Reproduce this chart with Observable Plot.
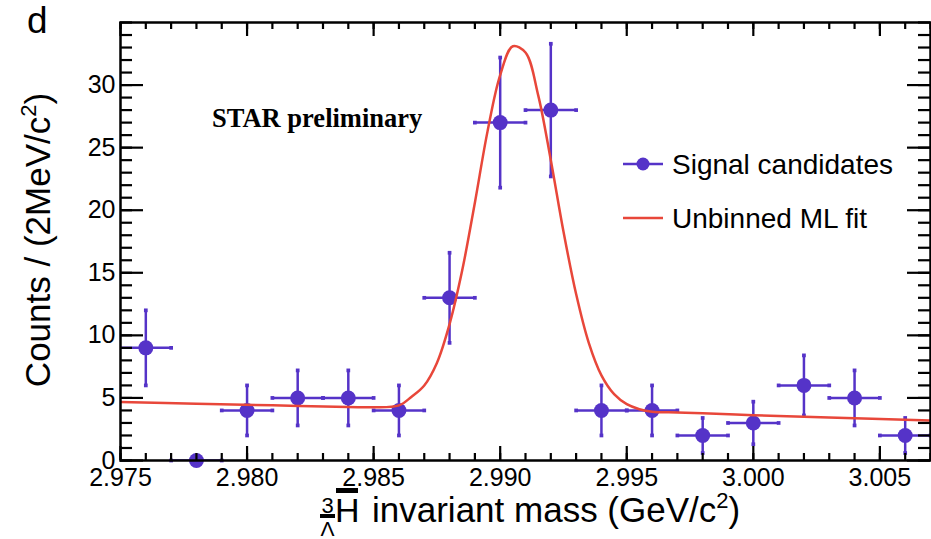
<!DOCTYPE html>
<html>
<head>
<meta charset="utf-8">
<script src="https://cdn.jsdelivr.net/npm/d3@7"></script>
<script src="https://cdn.jsdelivr.net/npm/@observablehq/plot@0.6"></script>
<style>
  html, body { margin: 0; padding: 0; background: #fff; }
  #chart { width: 931px; height: 539px; }
</style>
</head>
<body>
<div id="chart"></div>
<script>
// ---- data ----
const binCenters = [2.976, 2.978, 2.980, 2.982, 2.984, 2.986, 2.988, 2.990, 2.992, 2.994, 2.996, 2.998, 3.000, 3.002, 3.004, 3.006];
const counts     = [9, 0, 4, 5, 5, 4, 13, 27, 28, 4, 4, 2, 3, 6, 5, 2];
const countErr   = [3.0, 0, 2.0, 2.2, 2.2, 2.0, 3.6, 5.2, 5.3, 2.0, 2.0, 1.4, 1.7, 2.4, 2.2, 1.4];
const binHalfWidth = 0.001;

const fitMass = [2.975, 2.978, 2.981, 2.984, 2.985, 2.986, 2.9865, 2.987, 2.9875, 2.988, 2.9885, 2.989, 2.9895, 2.990, 2.9905, 2.991, 2.9915, 2.992, 2.9925, 2.993, 2.9935, 2.994, 2.9945, 2.995, 2.9955, 2.996, 2.997, 2.998, 3.000, 3.002, 3.004, 3.006, 3.007];
const fitValue = [4.67, 4.54, 4.41, 4.28, 4.25, 4.4, 5.1, 6.0, 7.8, 10.9, 15.2, 20.6, 26.3, 30.8, 33.1, 32.6, 29.2, 24.0, 18.3, 13.3, 9.4, 6.8, 5.3, 4.5, 4.1, 3.9, 3.84, 3.78, 3.62, 3.5, 3.38, 3.26, 3.2];

const xMajorTicks = [2.975, 2.980, 2.985, 2.990, 2.995, 3.000, 3.005];
const yMajorTicks = [0, 5, 10, 15, 20, 25, 30];
const xMinorTicks = d3.range(2975, 3008).map(d => d / 1000);
const yMinorTicks = d3.range(0, 36);

const legendLabels = ["Signal candidates", "Unbinned ML fit"];

// ---- build tables ----
const points = binCenters.map((x, i) => ({x, c: counts[i], e: countErr[i]}));
const fit = fitMass.map((x, i) => ({x, y: fitValue[i]}));

const W = 931, H = 539, mL = 120, mR = 1, mT = 22, mB = 79;
const plotW = W - mL - mR, plotH = H - mT - mB;
const purple = "#5533c8", red = "#e8473a";
const fmt = d3.format(".3f");

const svg = Plot.plot({
  width: W, height: H,
  marginLeft: mL, marginRight: mR, marginTop: mT, marginBottom: mB,
  style: {fontFamily: "'Liberation Sans', Arial, sans-serif", background: "#fff", color: "#000"},
  x: {domain: [2.975, 3.007], axis: null},
  y: {domain: [0, 35], axis: null},
  marks: [
    Plot.ruleY(points, {y: "c", x1: d => d.x - binHalfWidth, x2: d => d.x + binHalfWidth, stroke: purple, strokeWidth: 2.5, clip: true}),
    Plot.ruleX(points.filter(d => d.e > 0), {x: "x", y1: d => d.c - d.e, y2: d => d.c + d.e, stroke: purple, strokeWidth: 2.5}),
    Plot.dot(points.filter(d => d.e > 0), {x: "x", y: d => d.c + d.e, symbol: "square", r: 2.1, fill: purple}),
    Plot.dot(points.filter(d => d.e > 0), {x: "x", y: d => d.c - d.e, symbol: "square", r: 2.1, fill: purple}),
    Plot.dot(points.filter(d => d.x - binHalfWidth > 2.975), {x: d => d.x - binHalfWidth, y: "c", symbol: "square", r: 2.1, fill: purple}),
    Plot.dot(points, {x: d => d.x + binHalfWidth, y: "c", symbol: "square", r: 2.1, fill: purple}),
    Plot.dot(points, {x: "x", y: "c", r: 7.5, fill: purple}),
    Plot.line(fit, {x: "x", y: "y", stroke: red, strokeWidth: 2.5, curve: "catmull-rom", clip: true}),
    Plot.tickX(xMinorTicks, {x: d => d, stroke: "#000", strokeWidth: 2.2, insetTop: plotH - 7}),
    Plot.tickX(xMajorTicks, {x: d => d, stroke: "#000", strokeWidth: 2.2, insetTop: plotH - 14}),
    Plot.tickX(xMinorTicks, {x: d => d, stroke: "#000", strokeWidth: 2.2, insetBottom: plotH - 7}),
    Plot.tickX(xMajorTicks, {x: d => d, stroke: "#000", strokeWidth: 2.2, insetBottom: plotH - 14}),
    Plot.tickY(yMinorTicks, {y: d => d, stroke: "#000", strokeWidth: 2.2, insetRight: plotW - 12}),
    Plot.tickY(yMajorTicks, {y: d => d, stroke: "#000", strokeWidth: 2.2, insetRight: plotW - 23}),
    Plot.tickY(yMinorTicks, {y: d => d, stroke: "#000", strokeWidth: 2.2, insetLeft: plotW - 12}),
    Plot.tickY(yMajorTicks, {y: d => d, stroke: "#000", strokeWidth: 2.2, insetLeft: plotW - 23}),
    Plot.text(xMajorTicks, {x: d => d, text: d => fmt(d), frameAnchor: "bottom", lineAnchor: "bottom", dy: 25, fontSize: 25, fill: "#000"}),
    Plot.text(yMajorTicks, {y: d => d, text: d => String(d), frameAnchor: "left", textAnchor: "end", lineAnchor: "middle", dx: -5, fontSize: 25, fill: "#000"}),
    Plot.frame({stroke: "#000", strokeWidth: 2.5})
  ]
});

document.getElementById("chart").appendChild(svg);

const s = d3.select(svg);
const sans = "'Liberation Sans', Arial, sans-serif";

s.append("text").attr("x", 27).attr("y", 33).attr("text-anchor", "start").attr("font-family", sans).attr("font-size", 37).attr("fill", "#000").text("d");

s.append("text").attr("x", 212).attr("y", 127).attr("text-anchor", "start").attr("font-family", "'Liberation Serif', 'Times New Roman', serif")
  .attr("font-weight", "bold").attr("font-size", 26.5).attr("fill", "#000").text("STAR preliminary");

const yt = s.append("text").attr("transform", "translate(50,240) rotate(-90)").attr("text-anchor", "middle")
  .attr("font-family", sans).attr("font-size", 35).attr("fill", "#000");
yt.append("tspan").text("Counts / (2MeV/c");
yt.append("tspan").attr("font-size", 22).attr("dy", -14).text("2");
yt.append("tspan").attr("dy", 14).text(")");

const xg = s.append("g").attr("font-family", sans).attr("fill", "#000");
xg.append("text").attr("x", 327.5).attr("y", 513).attr("text-anchor", "middle").attr("font-size", 22).text("3");
xg.append("rect").attr("x", 320).attr("y", 514).attr("width", 15).attr("height", 4).attr("fill", "#000");
xg.append("text").attr("x", 327.5).attr("y", 536).attr("text-anchor", "middle").attr("font-size", 21).text("Λ");
xg.append("rect").attr("x", 336).attr("y", 488).attr("width", 22).attr("height", 5).attr("fill", "#000");
xg.append("text").attr("x", 335).attr("y", 522).attr("text-anchor", "start").attr("font-size", 34).text("H");
const xt = xg.append("text").attr("x", 372).attr("y", 522).attr("text-anchor", "start").attr("font-size", 35);
xt.append("tspan").text("invariant mass (GeV/c");
xt.append("tspan").attr("font-size", 22).attr("dy", -14).text("2");
xt.append("tspan").attr("dy", 14).text(")");

const lg = s.append("g").attr("font-family", sans).attr("font-size", 28).attr("fill", "#000").attr("text-anchor", "start");
lg.append("line").attr("x1", 623).attr("x2", 663).attr("y1", 164).attr("y2", 164).attr("stroke", purple).attr("stroke-width", 2.5);
lg.append("circle").attr("cx", 643).attr("cy", 164).attr("r", 6.5).attr("fill", purple);
lg.append("text").attr("x", 672).attr("y", 164).attr("dy", "0.35em").text(legendLabels[0]);
lg.append("line").attr("x1", 623).attr("x2", 663).attr("y1", 218).attr("y2", 218).attr("stroke", red).attr("stroke-width", 2.5);
lg.append("text").attr("x", 672).attr("y", 218).attr("dy", "0.35em").text(legendLabels[1]);
</script>
</body>
</html>
